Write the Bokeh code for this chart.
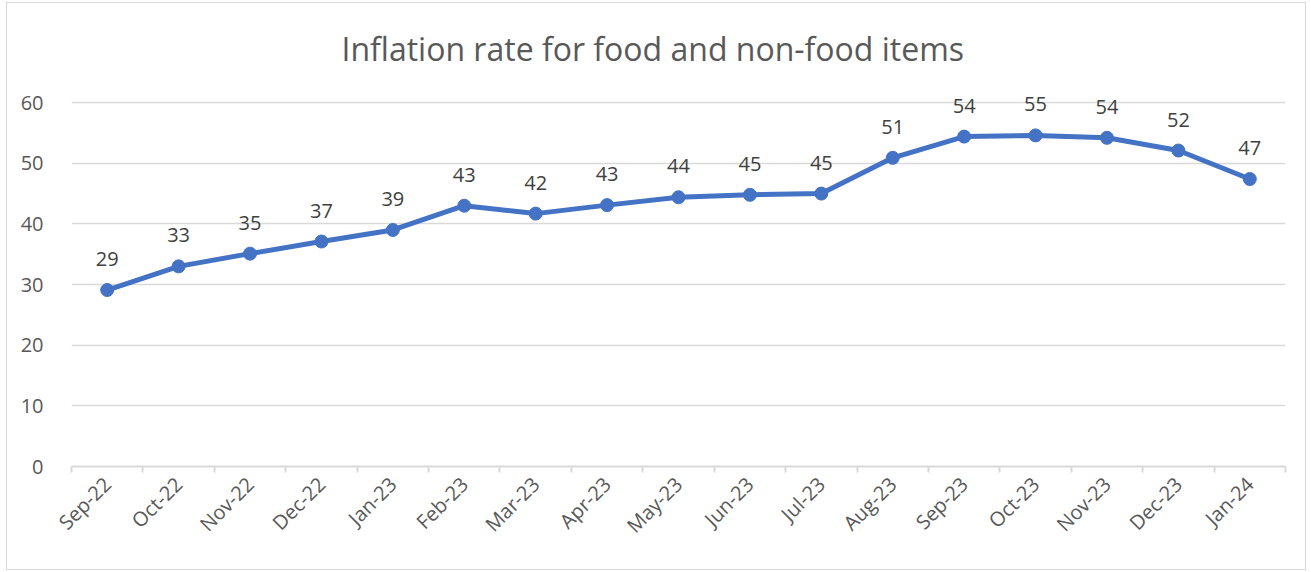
import math
from bokeh.plotting import figure
from bokeh.models import ColumnDataSource, FixedTicker, Range1d, Title
from bokeh.core.properties import value
from bokeh.embed import file_html
from bokeh.resources import INLINE

months = ["Sep-22", "Oct-22", "Nov-22", "Dec-22", "Jan-23", "Feb-23", "Mar-23", "Apr-23",
          "May-23", "Jun-23", "Jul-23", "Aug-23", "Sep-23", "Oct-23", "Nov-23", "Dec-23", "Jan-24"]
rates = [29.1, 33.0, 35.1, 37.1, 39.0, 43.0, 41.7, 43.1, 44.4, 44.8, 45.0, 50.9, 54.4, 54.6, 54.2, 52.1, 47.4]
y_ticks = [0, 10, 20, 30, 40, 50, 60]

FONT = "Open Sans"
BLUE = "#4472C4"
GRID = "#D9D9D9"
TXT = "#595959"

idx = list(range(len(months)))
src = ColumnDataSource(dict(x=idx, y=rates, lab=["%d" % round(v) for v in rates]))

p = figure(width=1300, height=568, output_backend="svg", toolbar_location=None,
           x_range=Range1d(-0.5, len(months) - 0.5), y_range=Range1d(0, 62),
           min_border_left=64, min_border_right=22, min_border_top=87, min_border_bottom=105)
p.title = None
p.outline_line_color = None
p.background_fill_color = "white"
p.border_fill_color = "white"
p.styles = {"border": "1px solid #D9D9D9", "margin-left": "6px", "margin-top": "2px"}

t = Title(text="Inflation rate for food and non-food  items", align="left",
          text_font=FONT, text_font_size="32px", text_font_style="normal",
          text_color=TXT, offset=270, standoff=41)
p.add_layout(t, "above")

# x axis
p.xaxis.ticker = FixedTicker(ticks=idx, minor_ticks=[i - 0.5 for i in range(len(months) + 1)])
p.xaxis.major_label_overrides = {i: m for i, m in enumerate(months)}
p.xaxis.major_label_orientation = math.pi / 4
p.xaxis.major_tick_line_color = None
p.xaxis.minor_tick_line_color = GRID
p.xaxis.minor_tick_line_width = 2
p.xaxis.minor_tick_in = 0
p.xaxis.minor_tick_out = 6
p.xaxis.axis_line_color = GRID
p.xaxis.axis_line_width = 2
p.xaxis.major_label_text_font = FONT
p.xaxis.major_label_text_font_size = "20px"
p.xaxis.major_label_text_color = TXT
p.xaxis.major_label_standoff = 8
p.xgrid.grid_line_color = None

# y axis
p.yaxis.ticker = FixedTicker(ticks=y_ticks)
p.yaxis.axis_line_color = None
p.yaxis.major_tick_line_color = None
p.yaxis.minor_tick_line_color = None
p.yaxis.major_label_text_font = FONT
p.yaxis.major_label_text_font_size = "20px"
p.yaxis.major_label_text_color = TXT
p.yaxis.major_label_standoff = 22
p.ygrid.grid_line_color = GRID
p.ygrid.grid_line_width = 1.5

p.line("x", "y", source=src, line_color=BLUE, line_width=5)
p.scatter("x", "y", source=src, size=13, fill_color=BLUE, line_color=BLUE)
p.text("x", "y", text="lab", source=src, text_align="center", text_baseline="middle",
       y_offset=-31, text_font=value(FONT), text_font_size="20px", text_color="#404040")

open("out.html", "w").write(file_html(p, INLINE))
